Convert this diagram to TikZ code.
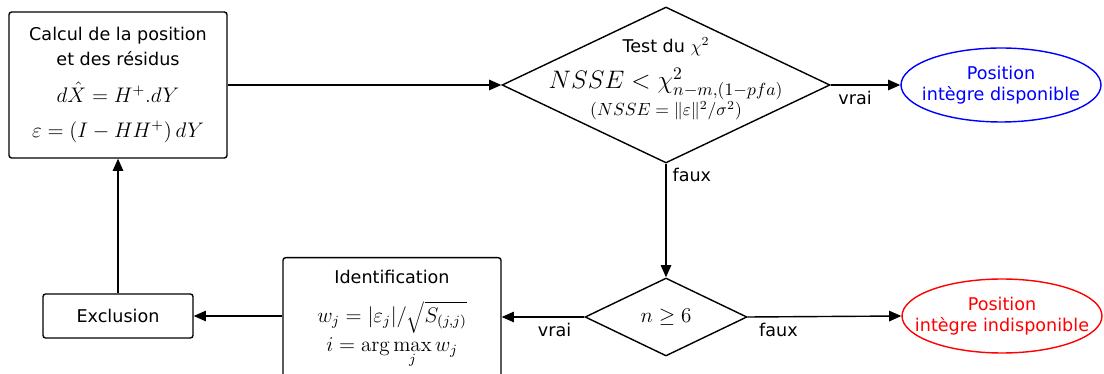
\documentclass[tikz,border=0pt]{standalone}
\usepackage{fontspec}
\newfontfamily\dejavu{DejaVu Sans}
\usetikzlibrary{shapes.geometric,arrows.meta}

\tikzset{
  bloc/.style={draw, rounded corners=1.5pt, align=center, line width=0.8pt},
  decision/.style={draw, diamond, inner sep=0pt, line width=0.8pt},
  sortie/.style={draw, ellipse, inner sep=0pt, line width=0.8pt},
  fleche/.style={-{Triangle[length=7pt,width=6pt]}, line width=0.8pt},
}

\begin{document}
\begin{tikzpicture}[x=0.02cm, y=-0.02cm, font=\dejavu]
            \useasboundingbox (0,0) rectangle (1104,374);
            % blocs
            \node[bloc, minimum width=4.36cm, minimum height=2.92cm] (calc) at (118,85)
                {Calcul de la position\\[2pt] et des résidus\\[9pt]
                 {\large $d\hat{X} = H^{+}.dY$}\\[8pt]
                 {\large $\varepsilon = \left(I - HH^{+}\right)dY$}};
            \node[decision, minimum width=6.56cm, minimum height=3.12cm,
                  label={[align=center, yshift=3.5pt]center:Test du $\chi^2$\\[6pt]
                  {\Large $NSSE < \chi^2_{n-m,(1-pfa)}$}\\[0pt]
                  $(NSSE = \|\varepsilon\|^2/\sigma^2)$}] (test) at (666,85) {};
            \node[sortie, blue, minimum width=4cm, minimum height=1.48cm,
                  label={[align=center, blue]center:Position\\intègre disponible}] (ok) at (1001,85) {};
            \node[decision, minimum width=3.24cm, minimum height=1.56cm] (nsat) at (666,317) {\large $n \geq 6$};
            \node[sortie, red, minimum width=4cm, minimum height=1.48cm,
                  label={[align=center, red]center:Position\\intègre indisponible}] (ko) at (1002,316) {};
            \node[bloc, minimum width=4.36cm, minimum height=2.46cm, anchor=north] (ident) at (392,257) {};
            \node[align=center, anchor=north] (identtxt) at (392,264)
                {Identification\\[9pt]
                 {\large $w_j = |\varepsilon_j|/\sqrt{S_{(j,j)}}$}\\[1pt]
                 {\large $i = \arg\max\limits_j w_j$}};
            \node[bloc, minimum width=3cm, minimum height=0.88cm] (excl) at (118,316) {Exclusion};
            % liaisons
            \draw[fleche] (calc.east |- test.west) -- (test.west);
            \draw[fleche] (test.east) -- node[below, pos=0.35] {vrai} (ok.west);
            \draw[fleche] (test.south) -- node[right, pos=0.1] {faux} (nsat.north);
            \draw[fleche] (nsat.west) -- node[below, pos=0.36] {vrai} (ident.east |- nsat.west);
            \draw[fleche] (nsat.east) -- node[below, pos=0.2] {faux} (ko.west);
            \draw[fleche] (ident.west |- excl.east) -- (excl.east);
            \draw[fleche] (excl.north) -- (calc.south);
        \end{tikzpicture}
\end{document}
